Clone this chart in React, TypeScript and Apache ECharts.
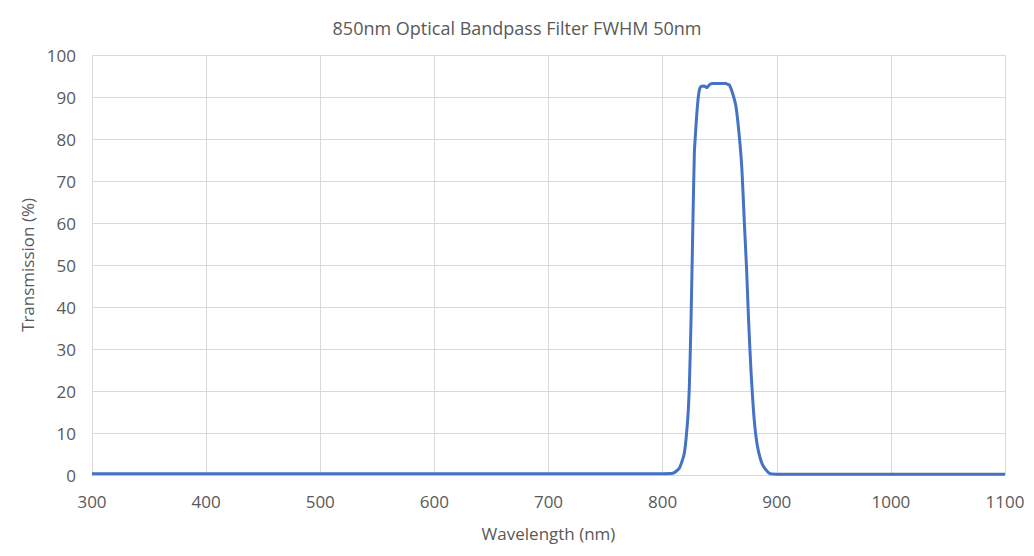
import React, { useEffect, useRef } from "react";
import * as echarts from "echarts";

const title = "850nm Optical Bandpass Filter FWHM 50nm";
const xAxisName = "Wavelength (nm)";
const yAxisName = "Transmission (%)";

const wavelength = [
  300, 400, 500, 600, 700, 780, 800, 808.8, 814.6, 819, 821.9, 823.4, 824.9, 826.3, 827.8, 829.2,
  830.7, 832.2, 833.6, 836.5, 838.6, 840.9, 843.3, 849.7, 855.5, 857, 858.4, 861.3, 864.3, 867.2,
  869.5, 871.5, 873.6, 875.3, 877.4, 880.3, 883.2, 887.6, 893.4, 900, 950, 1000, 1100,
];
const transmission = [
  0.3, 0.3, 0.3, 0.3, 0.3, 0.3, 0.3, 0.4, 1.6, 5.2, 13, 21, 37, 56.7, 76.6, 83,
  88.5, 91.7, 92.5, 92.6, 92.2, 92.9, 93.2, 93.2, 93.2, 93.0, 92.9, 90.9, 87.7, 80.6,
  72.6, 60.7, 48.8, 36.9, 25, 13, 6.7, 2.4, 0.4, 0.2, 0.2, 0.2, 0.2,
];

export default function App() {
  const ref = useRef<HTMLDivElement>(null);
  useEffect(() => {
    document.body.style.margin = "0";
    if (!ref.current) return;
    const chart = echarts.init(ref.current, null, { renderer: "svg" });
    const font = "'Open Sans', sans-serif";
    chart.setOption({
      animation: false,
      backgroundColor: "#ffffff",
      title: {
        text: title,
        left: "center",
        top: 14,
        textStyle: { fontFamily: font, fontSize: 18, fontWeight: "normal", color: "#595959" },
      },
      grid: { left: 92, right: 29, top: 55, bottom: 81 },
      xAxis: {
        type: "value",
        min: 300,
        max: 1100,
        interval: 100,
        name: xAxisName,
        nameLocation: "middle",
        nameGap: 50,
        nameTextStyle: { fontFamily: font, fontSize: 17, color: "#595959" },
        axisLine: { show: true, lineStyle: { color: "#d9d9d9", width: 1 } },
        axisTick: { show: false },
        axisLabel: {
          fontFamily: font,
          fontSize: 17,
          color: "#595959",
          margin: 18,
          formatter: (v: number) => String(v),
        },
        splitLine: { show: true, lineStyle: { color: "#d9d9d9", width: 1 } },
      },
      yAxis: {
        type: "value",
        min: 0,
        max: 100,
        interval: 10,
        name: yAxisName,
        nameLocation: "middle",
        nameGap: 56,
        nameTextStyle: { fontFamily: font, fontSize: 17, color: "#595959" },
        axisLine: { show: false },
        axisTick: { show: false },
        axisLabel: { fontFamily: font, fontSize: 17, color: "#595959", margin: 16 },
        splitLine: { show: true, lineStyle: { color: "#d9d9d9", width: 1 } },
      },
      series: [
        {
          type: "line",
          data: wavelength.map((w, i) => [w, transmission[i]]),
          showSymbol: false,
          smooth: 0.2,
          lineStyle: { color: "#4472C4", width: 3 },
        },
      ],
    });
    return () => chart.dispose();
  }, []);
  return <div ref={ref} style={{ width: 1034, height: 556 }} />;
}
